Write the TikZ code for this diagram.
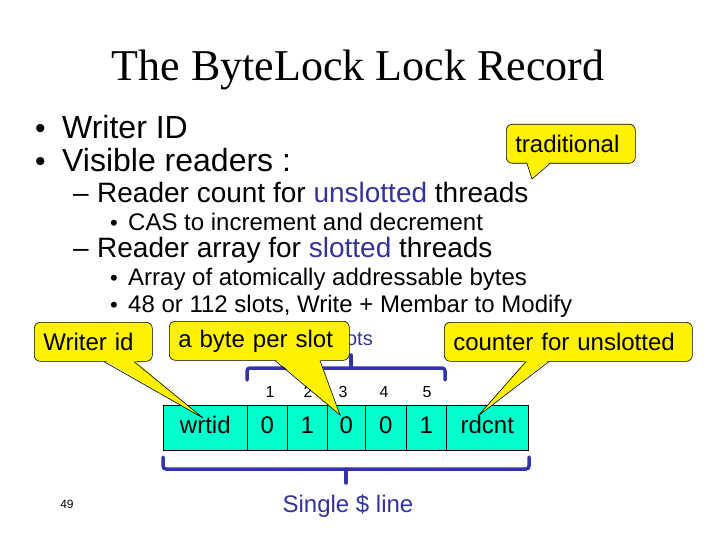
\documentclass[tikz,border=0pt]{standalone}
\usepackage{fontspec}
\setmainfont{Liberation Sans}
\newfontfamily\titlefont{Liberation Serif}
\usetikzlibrary{calc}
\definecolor{slotblue}{RGB}{51,51,153}
\definecolor{brk}{RGB}{51,51,170}
\definecolor{cellc}{RGB}{0,255,204}
\newcommand{\fs}[1]{\fontsize{#1}{#1}\selectfont}
\begin{document}
\begin{tikzpicture}[x=1pt,y=-1pt,
  txt/.style={anchor=base west, inner sep=0pt},
  cbox/.style={draw=black, fill=yellow, rounded corners=6pt, line width=0.6pt, inner xsep=9pt, inner ysep=0pt, align=left, anchor=north west, minimum height=39pt, font=\fs{24}},
  cell/.style={draw=black, fill=cellc, line width=0.6pt, minimum height=45pt, inner sep=0pt, anchor=north west, font=\fs{24}, text height=17pt, text depth=5pt},
  brace/.style={draw=brk, line width=3.5pt, line cap=round, line join=round, rounded corners=3pt},
  idx/.style={inner sep=0pt, anchor=base, font=\fs{16}},
  ptr/.style={draw=black, line width=0.6pt, line join=miter},
]
\useasboundingbox (0,0) rectangle (720,540);

% title
\node[anchor=base, inner sep=0pt, font=\titlefont\fs{44}] (title) at (358,81) {The ByteLock Lock Record};

% bullets
\node[txt, font=\fs{30}] (b1) at (35,139) {•};
\node[txt, font=\fs{32}] (t1) at (62,139) {Writer ID};
\node[txt, font=\fs{30}] (b2) at (35,172) {•};
\node[txt, font=\fs{32}] (t2) at (62,172) {Visible readers :};
\node[txt, font=\fs{28}] (d1) at (73,203) {–};
\node[txt, font=\fs{28}] (t3) at (97,203) {Reader count for \textcolor{slotblue}{unslotted} threads};
\node[txt, font=\fs{22}] (b3) at (110,230) {•};
\node[txt, font=\fs{24}] (t4) at (128,230) {CAS to increment and decrement};
\node[txt, font=\fs{28}] (d2) at (73,258) {–};
\node[txt, font=\fs{28}] (t5) at (97,258) {Reader array for \textcolor{slotblue}{slotted} threads};
\node[txt, font=\fs{22}] (b4) at (110,285) {•};
\node[txt, font=\fs{24}] (t6) at (128,285) {Array of atomically addressable bytes};
\node[txt, font=\fs{22}] (b5) at (110,312) {•};
\node[txt, font=\fs{24}] (t7) at (128,312) {48 or 112 slots, Write + Membar to Modify};

% hidden blue label
\node[inner sep=0pt, anchor=base east, font=\fs{20}, text=slotblue] (slots) at (373,345) {slots};

% table
\node[cell, minimum width=84pt] (wr) at (163,405) {wrtid};
\node[cell, minimum width=40pt] (c1) at (247,405) {0};
\node[cell, minimum width=40pt] (c2) at (287,405) {1};
\node[cell, minimum width=38pt] (c3) at (327,405) {0};
\node[cell, minimum width=41pt] (c4) at (365,405) {0};
\node[cell, minimum width=40pt] (c5) at (406,405) {1};
\node[cell, minimum width=82pt] (rd) at (446,405) {rdcnt};

% indices
\node[idx] (i1) at (270,397) {1};
\node[idx] (i2) at (308,397) {2};
\node[idx] (i3) at (343,397) {3};
\node[idx] (i4) at (384,397) {4};
\node[idx] (i5) at (427,397) {5};

% brackets
\draw[brace] (247,380) -- (247,368) -- (445,368) -- (445,380);
\draw[brace] (351,368) -- (351,355);
\draw[brace] (163,457) -- (163,469) -- (529,469) -- (529,457);
\draw[brace] (346,469) -- (346,483);
\node[inner sep=0pt, anchor=base, font=\fs{24}, text=slotblue] (single) at (348,512) {Single \$ line};

% page number
\node[inner sep=0pt, anchor=base, font=\fs{12}] (pg) at (67,508) {49};

% callouts
\coordinate (tradtip) at (532,179);
\coordinate (widtip) at (203,418);
\coordinate (bytetip) at (340,415);
\coordinate (cnttip) at (478,416);

\node[cbox, text width=111pt] (trad) at (506,124) {traditional};
\fill[yellow] ($(trad.south west)+(21,-1.5)$) -- (tradtip) -- ($(trad.south west)+(44,-1.5)$) -- cycle;
\draw[ptr] ($(trad.south west)+(21,0)$) -- (tradtip) -- ($(trad.south west)+(44,0)$);

\node[cbox, text width=100pt] (wid) at (34,322) {Writer id};
\fill[yellow] ($(wid.south west)+(70,-1.5)$) -- (widtip) -- ($(wid.south west)+(100,-1.5)$) -- cycle;
\draw[ptr] ($(wid.south west)+(70,0)$) -- (widtip) -- ($(wid.south west)+(100,0)$);

\node[cbox, text width=162pt] (byte) at (169,321) {a byte per slot};
\fill[yellow] ($(byte.south west)+(106,-1.5)$) -- (bytetip) -- ($(byte.south west)+(151,-1.5)$) -- cycle;
\draw[ptr] ($(byte.south west)+(106,0)$) -- (bytetip) -- ($(byte.south west)+(151,0)$);

\node[cbox, text width=230pt] (cnt) at (444,322) {counter for unslotted};
\fill[yellow] ($(cnt.south west)+(82,-1.5)$) -- (cnttip) -- ($(cnt.south west)+(105,-1.5)$) -- cycle;
\draw[ptr] ($(cnt.south west)+(82,0)$) -- (cnttip) -- ($(cnt.south west)+(105,0)$);
\end{tikzpicture}
\end{document}
